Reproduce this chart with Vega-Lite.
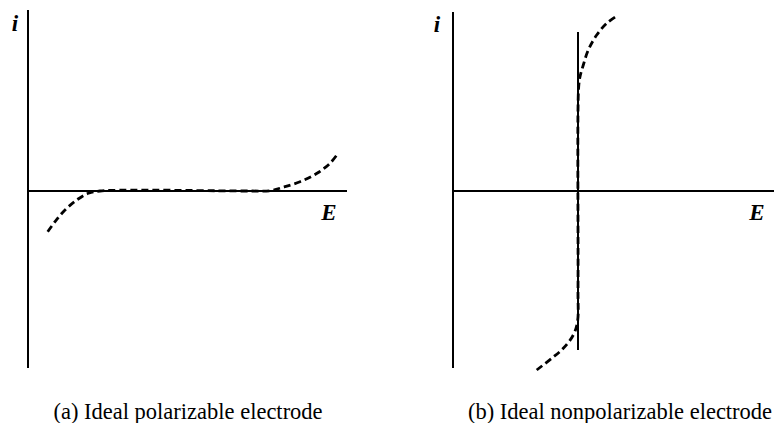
{
  "$schema": "https://vega.github.io/schema/vega-lite/v6.json",
  "padding": 0,
  "spacing": 17,
  "bounds": "flush",
  "config": {"view": {"stroke": null}, "text": {"font": "'Liberation Serif', 'Times New Roman', Times, serif"}},
  "datasets": {
    "axesA": [
      {"E": 0, "E2": 0, "i": 18.1, "i2": -17.7},
      {"E": 0, "E2": 31.9, "i": 0, "i2": 0}
    ],
    "curveA": [
      {"k": 1, "E": 1.97, "i": -4.07},
      {"k": 2, "E": 2.7, "i": -3.07},
      {"k": 3, "E": 3.7, "i": -1.9},
      {"k": 4, "E": 4.87, "i": -0.9},
      {"k": 5, "E": 6.03, "i": -0.23},
      {"k": 6, "E": 7.2, "i": 0},
      {"k": 7, "E": 22.2, "i": 0},
      {"k": 8, "E": 24.2, "i": 0.03},
      {"k": 9, "E": 25.5, "i": 0.37},
      {"k": 10, "E": 27.2, "i": 0.93},
      {"k": 11, "E": 28.9, "i": 1.77},
      {"k": 12, "E": 30.2, "i": 2.77},
      {"k": 13, "E": 31.0, "i": 3.77}
    ],
    "labelsA": [
      {"E": -1.3, "i": 16.7, "t": "i"},
      {"E": 30.1, "i": -2.2, "t": "E"}
    ],
    "captionA": [{"E": 16.0, "i": -22.1, "t": "(a) Ideal polarizable electrode"}],
    "axesB": [
      {"E": 0, "E2": 0, "i": 17.9, "i2": -17.7},
      {"E": 0, "E2": 32.1, "i": 0, "i2": 0},
      {"E": 12.5, "E2": 12.5, "i": 15.9, "i2": -15.9}
    ],
    "curveB": [
      {"k": 1, "E": 8.37, "i": -17.9},
      {"k": 2, "E": 9.87, "i": -16.73},
      {"k": 3, "E": 11.03, "i": -15.73},
      {"k": 4, "E": 12.03, "i": -14.4},
      {"k": 5, "E": 12.45, "i": -13.07},
      {"k": 6, "E": 12.5, "i": -9.9},
      {"k": 7, "E": 12.5, "i": 8.1},
      {"k": 8, "E": 12.57, "i": 10.43},
      {"k": 9, "E": 12.7, "i": 11.43},
      {"k": 10, "E": 13.03, "i": 12.6},
      {"k": 11, "E": 13.53, "i": 14.1},
      {"k": 12, "E": 14.37, "i": 15.6},
      {"k": 13, "E": 15.37, "i": 16.77},
      {"k": 14, "E": 16.37, "i": 17.5}
    ],
    "labelsB": [
      {"E": -1.6, "i": 16.6, "t": "i"},
      {"E": 30.4, "i": -2.2, "t": "E"}
    ],
    "captionB": [{"E": 16.7, "i": -22.1, "t": "(b) Ideal nonpolarizable electrode"}]
  },
  "hconcat": [
    {
      "width": 380,
      "height": 423,
      "layer": [
        {
          "data": {"name": "axesA"},
          "mark": {"type": "rule", "color": "black", "strokeWidth": 2},
          "encoding": {
            "x": {"field": "E", "type": "quantitative", "scale": {"domain": [-2.8, 35.2], "nice": false, "zero": false}, "axis": null},
            "x2": {"field": "E2"},
            "y": {"field": "i", "type": "quantitative", "scale": {"domain": [-23.2, 19.1], "nice": false, "zero": false}, "axis": null},
            "y2": {"field": "i2"}
          }
        },
        {
          "data": {"name": "curveA"},
          "mark": {"type": "line", "color": "black", "strokeWidth": 2.8, "strokeDash": [7, 4], "interpolate": "catmull-rom"},
          "encoding": {
            "x": {"field": "E", "type": "quantitative"},
            "y": {"field": "i", "type": "quantitative"},
            "order": {"field": "k", "type": "quantitative"}
          }
        },
        {
          "data": {"name": "labelsA"},
          "mark": {"type": "text", "fontSize": 23, "fontWeight": "bold", "fontStyle": "italic", "color": "black", "align": "center", "baseline": "middle"},
          "encoding": {
            "x": {"field": "E", "type": "quantitative"},
            "y": {"field": "i", "type": "quantitative"},
            "text": {"field": "t"}
          }
        },
        {
          "data": {"name": "captionA"},
          "mark": {"type": "text", "fontSize": 22.5, "color": "black", "align": "center", "baseline": "middle"},
          "encoding": {
            "x": {"field": "E", "type": "quantitative"},
            "y": {"field": "i", "type": "quantitative"},
            "text": {"field": "t"}
          }
        }
      ]
    },
    {
      "width": 380,
      "height": 423,
      "layer": [
        {
          "data": {"name": "axesB"},
          "mark": {"type": "rule", "color": "black", "strokeWidth": 2},
          "encoding": {
            "x": {"field": "E", "type": "quantitative", "scale": {"domain": [-5.6, 32.4], "nice": false, "zero": false}, "axis": null},
            "x2": {"field": "E2"},
            "y": {"field": "i", "type": "quantitative", "scale": {"domain": [-23.2, 19.1], "nice": false, "zero": false}, "axis": null},
            "y2": {"field": "i2"}
          }
        },
        {
          "data": {"name": "curveB"},
          "mark": {"type": "line", "color": "black", "strokeWidth": 2.8, "strokeDash": [7, 4], "interpolate": "catmull-rom"},
          "encoding": {
            "x": {"field": "E", "type": "quantitative"},
            "y": {"field": "i", "type": "quantitative"},
            "order": {"field": "k", "type": "quantitative"}
          }
        },
        {
          "data": {"name": "labelsB"},
          "mark": {"type": "text", "fontSize": 23, "fontWeight": "bold", "fontStyle": "italic", "color": "black", "align": "center", "baseline": "middle"},
          "encoding": {
            "x": {"field": "E", "type": "quantitative"},
            "y": {"field": "i", "type": "quantitative"},
            "text": {"field": "t"}
          }
        },
        {
          "data": {"name": "captionB"},
          "mark": {"type": "text", "fontSize": 22.5, "color": "black", "align": "center", "baseline": "middle"},
          "encoding": {
            "x": {"field": "E", "type": "quantitative"},
            "y": {"field": "i", "type": "quantitative"},
            "text": {"field": "t"}
          }
        }
      ]
    }
  ]
}
